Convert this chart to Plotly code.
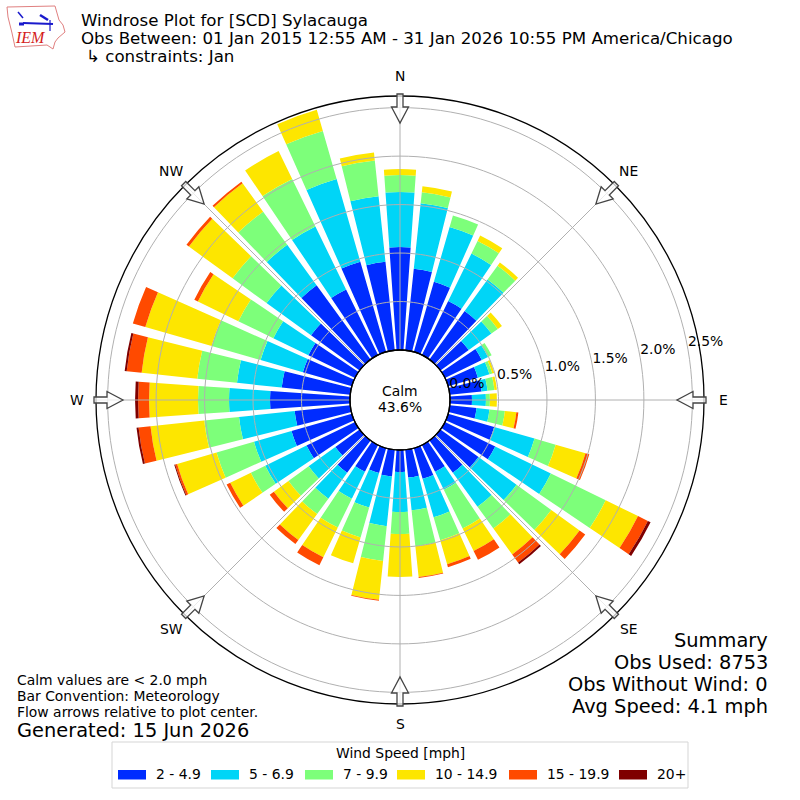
import math
import plotly.graph_objects as go

directions = list(range(0, 360, 10))

# percent of observations per direction, one list per speed bin
speed_2_5 = [1.062, .845, .753, .619, .619, .361, .423, .320, .330, .227, .278, .495,
             .577, .485, .412, .309, .330, .289, .227, .278, .268, .309, .412, .309,
             .557, .649, .577, .825, .711, .526, .536, .619, .948, .753, .969, .918]
speed_5_7 = [.567, .680, .588, .546, .402, .289, .072, .124, .062, .144, .134, .433,
             .639, .485, .433, .206, .412, .340, .412, .515, .371, .309, .330, .340,
             .474, .402, .577, .423, .464, .454, .402, .567, .515, .722, .887, .680]
speed_7_10 = [.175, .113, .124, .144, .175, .082, .041, .031, .072, .041, .160, .227,
              .629, .443, .278, .443, .247, .371, .227, .361, .320, .330, .196, .258,
              .165, .402, .361, .320, .412, .526, .402, .433, .423, .546, .515, .371]
speed_10_15 = [.062, .062, 0, .062, .041, .052, 0, .021, .026, .072, .119, .320,
               .371, .361, .330, .258, .258, .320, .443, .402, .278, .340, .330, .186,
               .237, .423, .557, .505, .577, .711, .464, .557, .361, .320, .227, .082]
speed_15_20 = [0, 0, 0, 0, 0, 0, 0, 0, 0, 0, .021, .041,
               .113, .072, .103, .103, .031, .010, 0, .010, 0, .093, .052, .052,
               .041, .021, .124, .113, .155, .134, .041, .031, .021, 0, 0, 0]
speed_20_up = [0, 0, 0, 0, 0, 0, 0, 0, 0, 0, 0, 0,
               .031, 0, .021, 0, 0, 0, 0, 0, 0, 0, 0, 0,
               0, .010, .021, .031, .021, 0, 0, 0, 0, 0, 0, 0]

speed_bins = [speed_2_5, speed_5_7, speed_7_10, speed_10_15, speed_15_20, speed_20_up]
speed_labels = ["2 - 4.9", "5 - 6.9", "7 - 9.9", "10 - 14.9", "15 - 19.9", "20+"]
speed_colors = ["#002cff", "#00d5f7", "#7dff7a", "#fde600", "#ff4a00", "#7f0000"]

compass_vals = [0, 45, 90, 135, 180, 225, 270, 315]
compass_text = ["N", "NE", "E", "SE", "S", "SW", "W", "NW"]
radial_vals = [0, 0.5, 1.0, 1.5, 2.0, 2.5]
radial_text = ["0.0%", "0.5%", "1.0%", "1.5%", "2.0%", "2.5%"]
radial_max = 2.62

FONT = "DejaVu Sans"
GRID = "#b0b0b0"


def px(x, y):
    return x / 800, 1 - y / 800


def path_from(points, close=True):
    parts = []
    for i, (x, y) in enumerate(points):
        a, b = px(x, y)
        parts.append(("M" if i == 0 else "L") + f" {a:.5f},{b:.5f}")
    return " ".join(parts) + (" Z" if close else "")


def arrow_path(angle):
    # flow arrow pointing at the plot center
    local = [(306, -3), (293, -3), (293, -8.5), (277, 0), (293, 8.5), (293, 3), (306, 3)]
    t = math.radians(angle)
    pts = []
    for r, w in local:
        pts.append((400 + r * math.sin(t) + w * math.cos(t),
                    400 - r * math.cos(t) + w * math.sin(t)))
    return path_from(pts)


def label(text, x, y, size, anchor="left", color="black", family=FONT):
    a, b = px(x, y)
    return dict(text=text, x=a, y=b, xref="paper", yref="paper", showarrow=False,
                xanchor=anchor, yanchor="middle", align=anchor, borderpad=0,
                font=dict(family=family, size=size, color=color))


fig = go.Figure()

for vals, name, color in zip(speed_bins, speed_labels, speed_colors):
    fig.add_trace(go.Barpolar(theta=directions, r=vals, width=8, name=name,
                              marker=dict(color=color, line=dict(width=0))))

# polar gridlines sit under the traces in plotly, the reference has them on top
ring_theta = list(range(0, 361, 2))
for v in radial_vals[1:]:
    fig.add_trace(go.Scatterpolar(r=[v] * len(ring_theta), theta=ring_theta, mode="lines",
                                  line=dict(color=GRID, width=1), hoverinfo="skip"))
for a in compass_vals:
    fig.add_trace(go.Scatterpolar(r=[0, radial_max], theta=[a, a], mode="lines",
                                  line=dict(color=GRID, width=1), hoverinfo="skip"))

fig.add_trace(go.Scatterpolar(r=radial_vals, theta=[80] * len(radial_vals), mode="text",
                              text=radial_text, textposition="top right",
                              textfont=dict(family=FONT, size=13.9, color="black"),
                              cliponaxis=False, hoverinfo="skip"))

shapes = []
for a in compass_vals:
    shapes.append(dict(type="path", path=arrow_path(a), xref="paper", yref="paper",
                       fillcolor="rgba(255,255,255,0.75)", line=dict(color="#444444", width=1.3)))

# hole outline
x0, y0 = px(350, 450)
x1, y1 = px(450, 350)
shapes.append(dict(type="circle", xref="paper", yref="paper", x0=x0, y0=y0, x1=x1, y1=y1,
                   line=dict(color="black", width=1.3)))

# IEM logo
iowa = [(7, 7), (55, 6), (57, 13), (59, 20), (63, 25), (65, 32), (58, 38), (55, 42),
        (53, 49), (47, 45), (15, 47), (12, 33), (8, 17)]
shapes.append(dict(type="path", path=path_from(iowa), xref="paper", yref="paper",
                   line=dict(color="#e08080", width=1)))
for pts, w in [([(23, 23), (53, 24)], 2.2), ([(18, 12), (23, 18)], 1.5),
               ([(40, 15), (48, 20)], 2.5), ([(50, 20), (50, 31)], 1.2),
               ([(19, 24), (24, 24)], 3)]:
    shapes.append(dict(type="path", path=path_from(pts, close=False), xref="paper", yref="paper",
                       line=dict(color="#1a1acc", width=w)))

annotations = [
    label("<i>IEM</i>", 30, 38, 16, anchor="center", color="#d42020", family="Liberation Serif"),
    label("Windrose Plot for [SCD] Sylacauga", 79.5, 20.5, 16.67),
    label("Obs Between: 01 Jan 2015 12:55 AM - 31 Jan 2026 10:55 PM America/Chicago", 79.5, 38.5, 16.67),
    label("↳ constraints: Jan", 85, 56.5, 16.67),
    label("Calm", 400, 391, 13.9, anchor="center"),
    label("43.6%", 400, 407, 13.9, anchor="center"),
    label("Summary", 768.5, 640, 19.4, anchor="right"),
    label("Obs Used: 8753", 768.5, 662, 19.4, anchor="right"),
    label("Obs Without Wind: 0", 768.5, 684, 19.4, anchor="right"),
    label("Avg Speed: 4.1 mph", 768.5, 706, 19.4, anchor="right"),
    label("Calm values are &lt; 2.0 mph", 15.5, 680, 13.9),
    label("Bar Convention: Meteorology", 15.5, 696, 13.9),
    label("Flow arrows relative to plot center.", 15.5, 712, 13.9),
    label("Generated: 15 Jun 2026", 15.5, 730, 19.4),
    label("Wind Speed [mph]", 400, 753, 13.9, anchor="center"),
]

# compass labels on a circle just outside the frame
for a, name in zip(compass_vals, compass_text):
    t = math.radians(a)
    annotations.append(label(name, 400 + 323.5 * math.sin(t), 400 - 323.5 * math.cos(t),
                             13.9, anchor="center"))

# legend drawn by hand for the wide swatches
x0, y0 = px(112, 788)
x1, y1 = px(688, 742)
shapes.append(dict(type="rect", xref="paper", yref="paper", x0=x0, y0=y0, x1=x1, y1=y1,
                   fillcolor="white", line=dict(color="#d5d5d5", width=1)))
swatch_left = [118, 211, 305, 397, 509, 619]
for left, name, color in zip(swatch_left, speed_labels, speed_colors):
    x0, y0 = px(left, 779.5)
    x1, y1 = px(left + 28, 770)
    shapes.append(dict(type="rect", xref="paper", yref="paper", x0=x0, y0=y0, x1=x1, y1=y1,
                       fillcolor=color, line=dict(width=0)))
    annotations.append(label(name, left + 37, 774, 13.9))

fig.update_layout(
    width=800, height=800,
    margin=dict(l=0, r=0, t=0, b=0),
    paper_bgcolor="white",
    showlegend=False,
    font=dict(family=FONT, color="black"),
    shapes=shapes,
    annotations=annotations,
    polar=dict(
        domain=dict(x=[96 / 800, 704 / 800], y=[96 / 800, 704 / 800]),
        hole=50 / 304,
        barmode="stack",
        bgcolor="white",
        radialaxis=dict(range=[0, radial_max], showgrid=False, showticklabels=False,
                        ticks="", showline=False),
        angularaxis=dict(rotation=90, direction="clockwise", tickmode="array",
                         tickvals=compass_vals, showticklabels=False,
                         ticks="", showgrid=False,
                         linecolor="black", linewidth=1.3),
    ),
)

# the browser's default body margin would push the figure 8px off
fig.write_html("out.html", config=dict(displayModeBar=False),
               post_script="document.body.style.margin='0';")
